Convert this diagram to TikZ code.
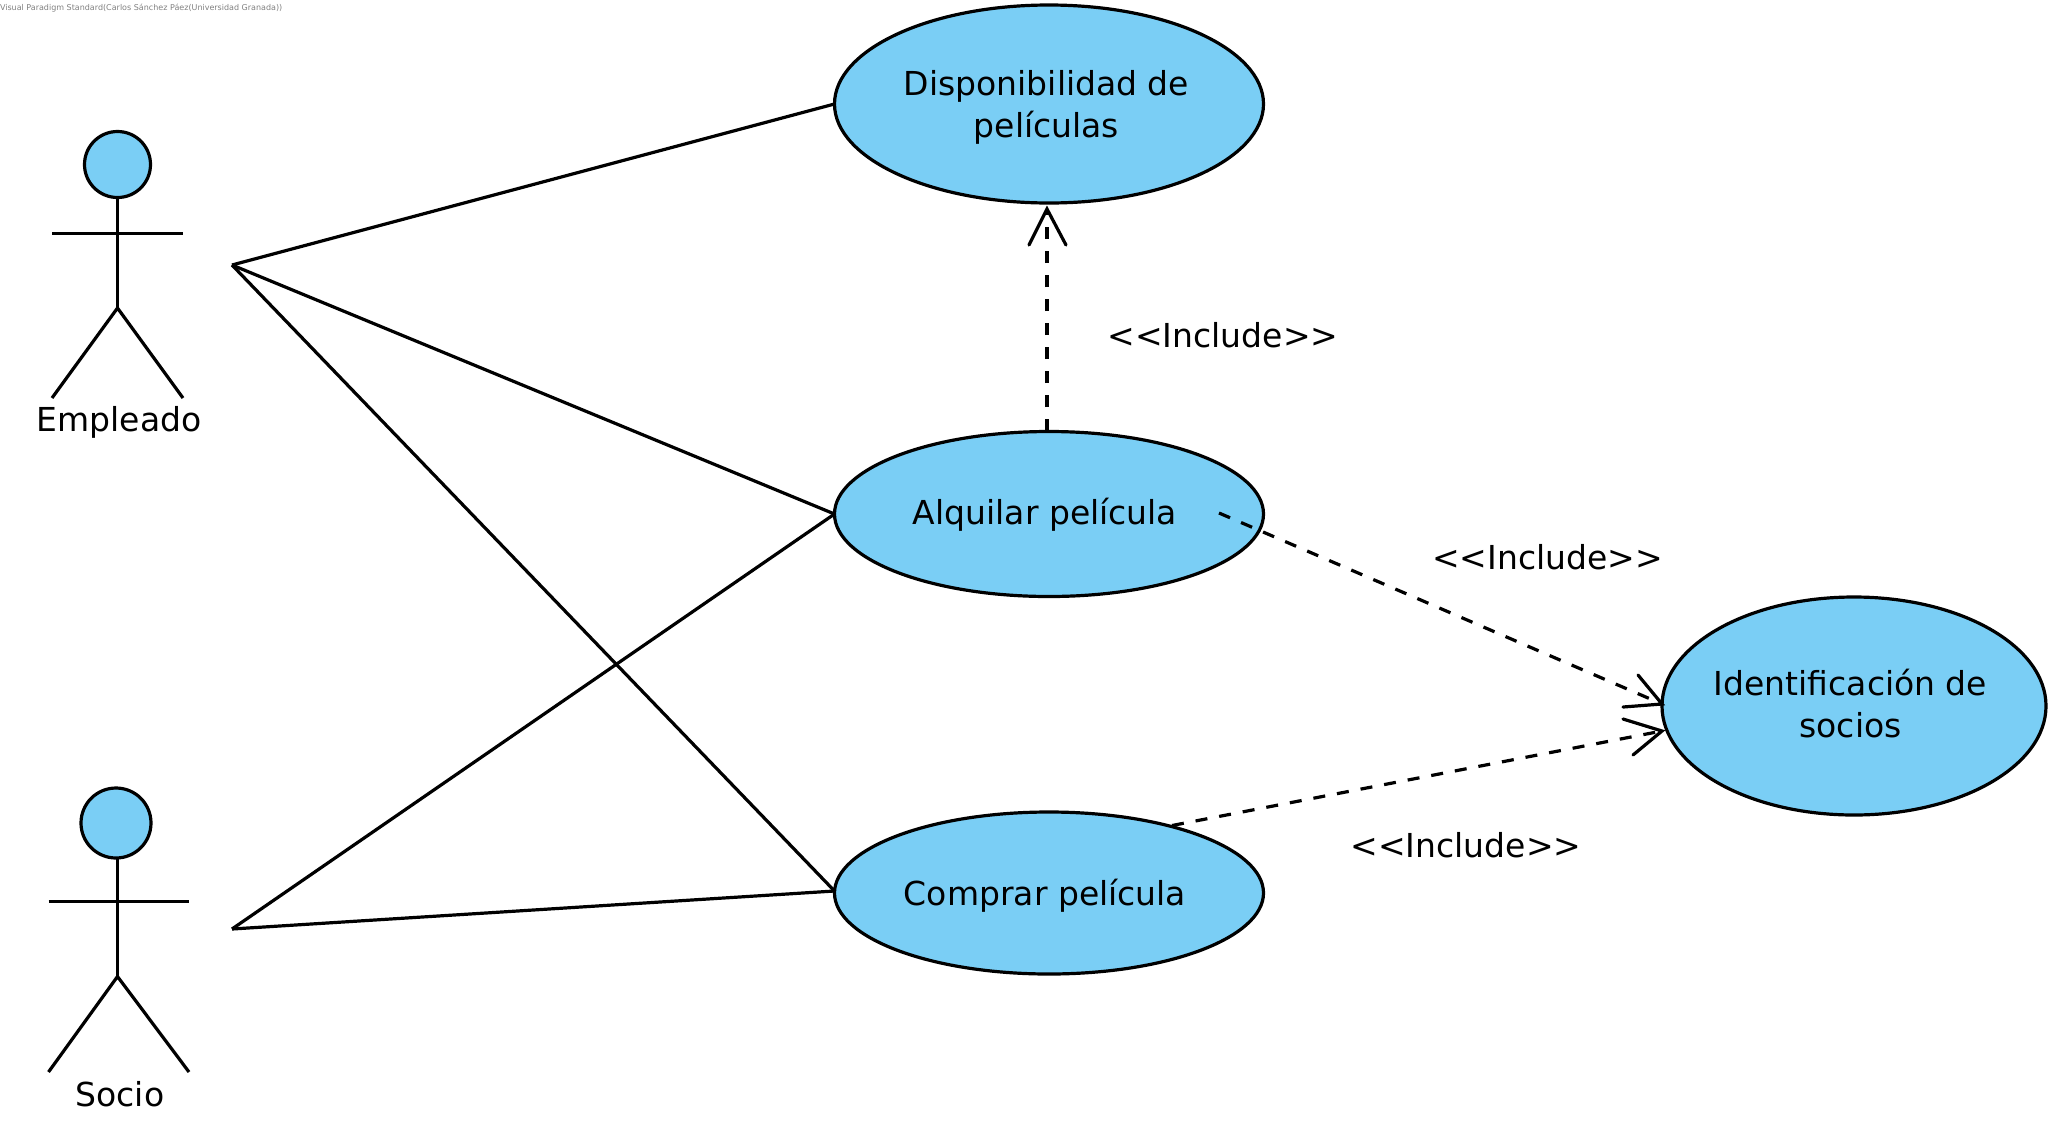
\documentclass[tikz,border=0pt]{standalone}
\usepackage{fontspec}
\setmainfont{DejaVu Sans}
\usetikzlibrary{shapes.geometric}
\definecolor{ucfill}{HTML}{7ACEF5}
\tikzset{
  x=1pt,y=-1pt,
  every node/.style={inner sep=0pt,outer sep=0pt},
  line/.style={draw=black,line width=3.2pt},
  usecase/.style={ellipse,draw=black,fill=ucfill,line width=3.2pt},
  head/.style={circle,draw=black,fill=ucfill,line width=3.2pt},
  incl/.style={draw=black,line width=3.2pt,dash pattern=on 12pt off 12pt},
  barb/.style={draw=black,line width=3.2pt,line cap=round,line join=miter},
  txt/.style={font=\fontsize{33}{42}\selectfont,text=black,align=center},
}
\begin{document}
\begin{tikzpicture}
\useasboundingbox (0,0) rectangle (2058,1125);
\node[font=\fontsize{8}{10}\selectfont,text=black!50,anchor=west] (credit) at (0,8) {Visual Paradigm Standard(Carlos Sánchez Páez(Universidad Granada))};
% free ends
\coordinate (empEnd) at (232,265);
\coordinate (socEnd) at (232,929);
% use cases
\node[usecase,minimum width=429pt,minimum height=198pt] (disp) at (1049,104) {};
\node[usecase,minimum width=429pt,minimum height=165pt] (alq) at (1049,514) {};
\node[usecase,minimum width=429pt,minimum height=162pt] (comp) at (1049,893) {};
\node[usecase,minimum width=384pt,minimum height=218pt] (iden) at (1854,706) {};
\node[txt] (tdisp) at (1046.5,107) {Disponibilidad de\\películas};
\node[txt] (talq) at (1045,515) {Alquilar película};
\node[txt] (tcomp) at (1045,895.5) {Comprar película};
\node[txt] (tiden) at (1850.5,704) {Identificación de\\socios};
% associations
\coordinate (compIn) at ([yshift=2pt]comp.west);
\draw[line] (empEnd) -- (disp.west);
\draw[line] (empEnd) -- (alq.west);
\draw[line] (empEnd) -- (compIn);
\draw[line] (socEnd) -- (alq.west);
\draw[line] (socEnd) -- (compIn);
% actor Empleado
\node[head,minimum size=66pt] (h1) at (117.5,164.5) {};
\coordinate (hip1) at (117.5,308);
\coordinate (armL1) at (52,233.5);
\coordinate (armR1) at (183,233.5);
\coordinate (footL1) at (52,398);
\coordinate (footR1) at (183,398);
\draw[line] (h1.south) -- (hip1);
\draw[line] (armL1) -- (armR1);
\draw[line] (footL1) -- (hip1) -- (footR1);
\node[txt] (lemp) at (119,422) {Empleado};
% actor Socio
\node[head,minimum size=70pt] (h2) at (116,823) {};
\coordinate (neck2) at (117.5,858);
\coordinate (hip2) at (117.5,976.5);
\coordinate (armL2) at (48.5,901.5);
\coordinate (armR2) at (189,901.5);
\coordinate (footL2) at (48.5,1072);
\coordinate (footR2) at (189,1072);
\draw[line] (neck2) -- (hip2);
\draw[line] (armL2) -- (armR2);
\draw[line] (footL2) -- (hip2) -- (footR2);
\node[txt] (lsoc) at (120,1094.5) {Socio};
% includes
\coordinate (tip1) at (1047,209);
\coordinate (start1) at (1047,431);
\coordinate (start2) at (1219,513);
\coordinate (tip2) at (1662,704);
\coordinate (start3) at (1172,825.5);
\coordinate (tip3) at (1662,731);
\draw[incl] (start1) -- (tip1);
\draw[barb] (1029,245) -- (tip1) -- (1066,245);
\draw[incl] (start2) -- (tip2);
\draw[barb] (1638,675) -- (tip2) -- (1623,707);
\draw[incl] (start3) -- (tip3);
\draw[barb] (1623,719) -- (tip3) -- (1633,755);
\node[txt] (l1) at (1223,335.5) {<{}<Include>{}>};
\node[txt] (l2) at (1547.5,557.5) {<{}<Include>{}>};
\node[txt] (l3) at (1466,845.5) {<{}<Include>{}>};
\end{tikzpicture}
\end{document}
